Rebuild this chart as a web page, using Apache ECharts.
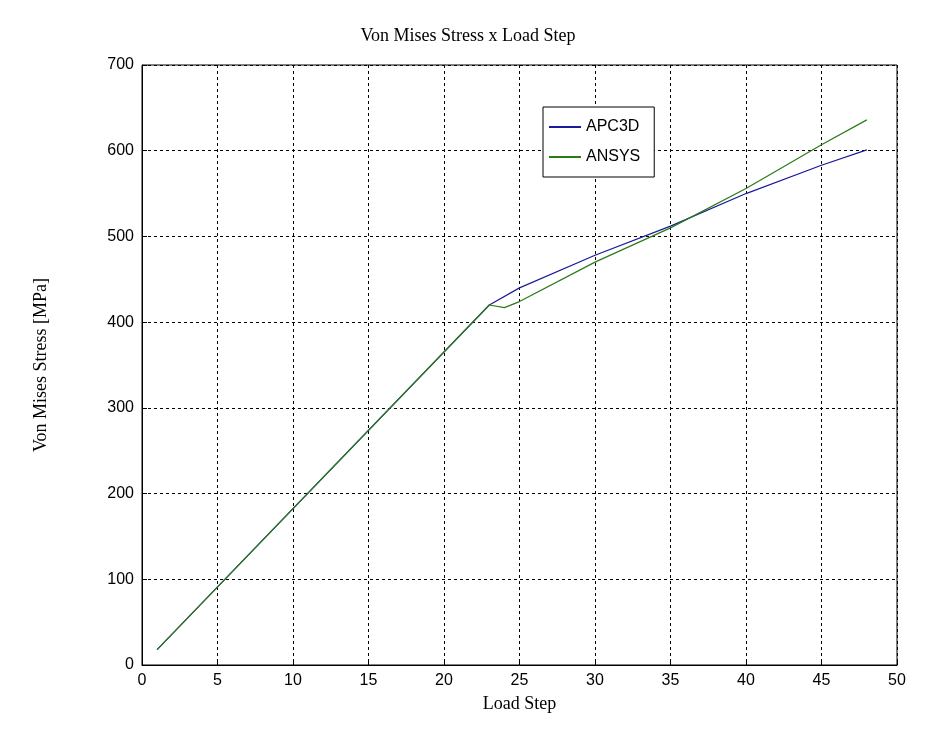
<!DOCTYPE html><html><head><meta charset="utf-8">
<script src="https://cdn.jsdelivr.net/npm/echarts@6/dist/echarts.min.js"></script>
<style>html,body{margin:0;background:#fff}#c{width:936px;height:733px}</style></head><body>
<div id="c"></div>
<script>
const xTicks=[0,5,10,15,20,25,30,35,40,45,50];
const apcX=[1,23,25,30,35,40,45,48];
const apcY=[18,420,440,478,512,550,583,601];
const ansX=[1,23,24,25,30,35,40,45,48];
const ansY=[18,420,417,424,470,510,556,607,636];
const pair=(xs,ys)=>xs.map((x,i)=>[x,ys[i]]);
const c=echarts.init(document.getElementById('c'));
const ax={color:'#000',fontFamily:'Liberation Sans',fontSize:16};
c.setOption({
 animation:false,
 title:{text:'Von Mises Stress x Load Step',left:'center',top:22,textStyle:{fontFamily:'Liberation Serif',fontWeight:'normal',fontSize:18,color:'#000'}},
 grid:{left:142,right:39,top:65,bottom:68,show:true,borderColor:'#000',borderWidth:1},
 legend:{orient:'vertical',left:543,top:107,backgroundColor:'#fff',borderColor:'#000',borderWidth:1,padding:[12,14,12,6],itemWidth:32,itemHeight:2,itemGap:14,
  textStyle:{fontFamily:'Liberation Sans',fontSize:16,color:'#000'},icon:'rect',
  data:['APC3D','ANSYS']},
 xAxis:{type:'value',min:0,max:50,interval:5,name:'Load Step',nameLocation:'middle',nameGap:30,
  nameTextStyle:{fontFamily:'Liberation Serif',fontSize:18,color:'#000'},
  axisLine:{lineStyle:{color:'#000'}},axisTick:{inside:true,length:5,lineStyle:{color:'#000'}},axisLabel:ax,
  splitLine:{lineStyle:{color:'#000',type:[3,3]}}},
 yAxis:{type:'value',min:0,max:700,interval:100,name:'Von Mises Stress [MPa]',nameLocation:'middle',nameGap:92,
  nameTextStyle:{fontFamily:'Liberation Serif',fontSize:18,color:'#000'},
  axisLine:{lineStyle:{color:'#000'}},axisTick:{inside:true,length:5,lineStyle:{color:'#000'}},axisLabel:ax,
  splitLine:{lineStyle:{color:'#000',type:[3,3]}}},
 series:[
  {name:'APC3D',type:'line',data:pair(apcX,apcY),showSymbol:false,color:'#1a1a9a',lineStyle:{width:1.2}},
  {name:'ANSYS',type:'line',data:pair(ansX,ansY),showSymbol:false,color:'#2a7a1a',lineStyle:{width:1.2}}
 ]
});
</script></body></html>
